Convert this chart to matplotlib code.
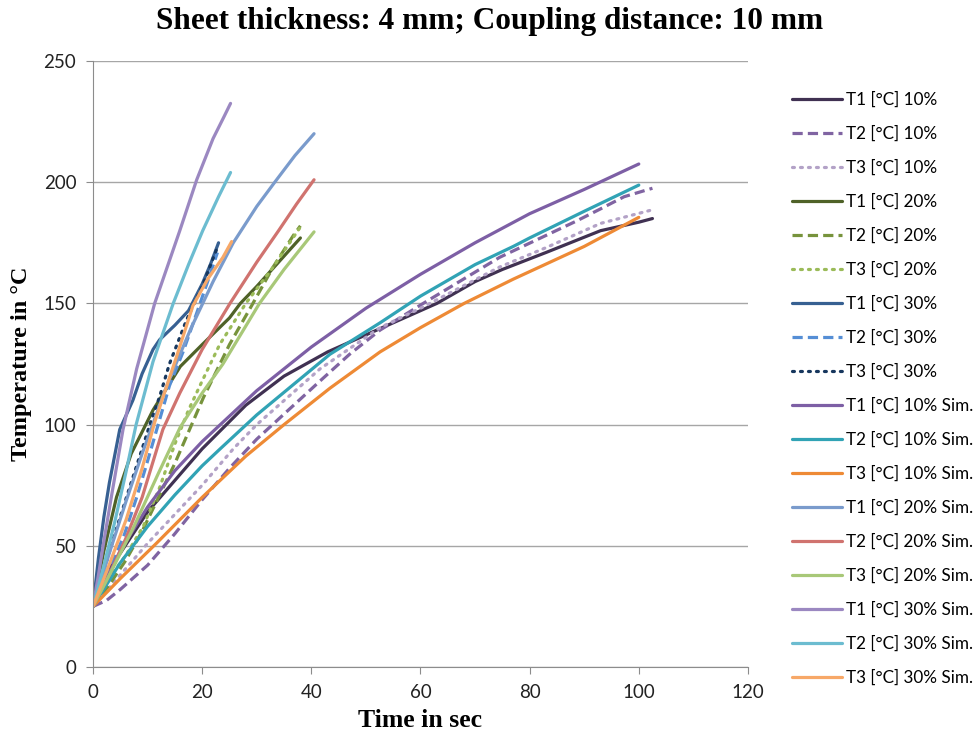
import matplotlib
matplotlib.use('Agg')
import matplotlib.pyplot as plt

# measured curves, 10 % power
t_t1_10 = [0, 2, 5, 10, 20, 28, 35, 43, 50, 55, 63, 70, 75, 83, 93, 100, 102.5]
y_t1_10 = [25, 38, 47, 64, 90, 108, 120, 130, 137, 142, 150, 159, 164, 171, 180, 183.5, 185]
t_t2_10 = [0, 2.5, 5, 10, 15, 20, 25, 30, 41.6, 47, 52.6, 60.5, 74.5, 88.6, 93, 97.3, 102.5]
y_t2_10 = [25, 27.5, 32, 42, 55, 69, 82, 94, 118, 129, 139, 150, 169, 184, 189, 194, 197.5]
t_t3_10 = [0, 5, 10, 15, 20, 25.7, 30, 41.6, 52.6, 60, 74.5, 83, 93, 102.3]
y_t3_10 = [25, 38, 51, 63, 75, 90, 100, 123, 140, 148, 165, 173, 183, 188.5]

# measured curves, 20 % power
t_t1_20 = [0, 2, 4.3, 7, 11, 16, 20, 25, 27, 30, 34, 38]
y_t1_20 = [25, 48, 70, 88, 106, 124, 133, 144, 150, 157, 167, 177]
t_t2_20 = [0, 3, 6, 9, 12, 15, 17.5, 20.2, 25, 29.3, 33, 36.7, 38]
y_t2_20 = [25, 34, 44, 56, 70, 84, 97, 111, 133, 150, 165, 178, 182]
t_t3_20 = [0, 3, 6, 9.2, 12.2, 15, 17.5, 20, 23.2, 28, 33, 38]
y_t3_20 = [25, 37, 46, 58, 74, 92, 106, 118, 133, 150, 165, 181.5]

# measured curves, 30 % power
t_t1_30 = [0, 1, 2, 3, 4.9, 7.3, 9, 11, 12.2, 15, 17.5, 20, 21.5, 23]
y_t1_30 = [25, 45, 62, 76, 98, 110, 121, 131, 135, 141, 147, 158, 166, 175]
t_t2_30 = [0, 3, 5.8, 8, 10, 12.2, 14, 16.5, 19, 21, 22.8]
y_t2_30 = [25, 40, 55, 70, 85, 102, 116, 130, 146, 159, 171]
t_t3_30 = [0, 2, 4, 6.7, 9, 10.7, 12.2, 14, 17.1, 20, 22.6]
y_t3_30 = [25, 40, 55, 74, 90, 102, 111.5, 125, 143, 157, 172]

# simulation, 10 % power
t_s1_10 = [0, 5, 10, 15, 20, 30, 40, 50, 60, 70, 80, 90, 100]
y_s1_10 = [25, 48, 66, 81, 93, 114, 132, 148, 162, 175, 187, 197, 207.5]
t_s2_10 = [0, 5, 10, 15, 20, 23.3, 30, 43.4, 52.6, 60, 70, 77, 80, 90, 100]
y_s2_10 = [25, 43, 58, 71, 83, 90, 104, 129, 142, 153, 166, 173.5, 177, 188, 198.8]
t_s3_10 = [0, 5, 11.6, 20, 28, 35, 43.4, 52.6, 60, 68, 77, 90, 100]
y_s3_10 = [25, 36.5, 51, 70, 87, 100, 115, 130, 140, 150, 160, 173.5, 185.5]

# simulation, 20 % power
t_s1_20 = [0, 3, 6, 9, 13.5, 18, 22, 25.7, 30, 33.3, 37, 40.5]
y_s1_20 = [25, 47, 68, 88, 116, 140, 159, 175, 190, 200, 211, 220]
t_s2_20 = [0, 3, 6, 9, 12.8, 15.9, 20, 25.1, 30, 34, 37.3, 40.5]
y_s2_20 = [25, 38, 53, 70, 98, 113, 131, 150, 167, 180, 191, 201]
t_s3_20 = [0, 3, 7.3, 12, 16, 20, 23.8, 30.5, 35, 40.5]
y_s3_20 = [25, 38, 57, 80, 99, 113, 125, 150, 164, 179.5]

# simulation, 30 % power
t_s1_30 = [0, 1, 2, 3.5, 5.5, 8, 11.3, 15.9, 19, 22, 24, 25.2]
y_s1_30 = [25, 38, 52, 72, 98, 123, 150, 180, 201, 218, 227, 232.5]
t_s2_30 = [0, 2, 4, 6, 7.9, 11, 14.7, 17.5, 20.1, 23, 25.2]
y_s2_30 = [25, 42, 60, 80, 100, 126, 150, 166, 180, 194, 204]
t_s3_30 = [0, 3.1, 6.1, 9, 11.3, 15.3, 18.3, 21, 23.8, 25.4]
y_s3_30 = [25, 43, 61, 82, 101, 128, 149, 160, 169, 175.5]

labels = [
    'T1 [°C] 10%', 'T2 [°C] 10%', 'T3 [°C] 10%',
    'T1 [°C] 20%', 'T2 [°C] 20%', 'T3 [°C] 20%',
    'T1 [°C] 30%', 'T2 [°C] 30%', 'T3 [°C] 30%',
    'T1 [°C] 10% Sim.', 'T2 [°C] 10% Sim.', 'T3 [°C] 10% Sim.',
    'T1 [°C] 20% Sim.', 'T2 [°C] 20% Sim.', 'T3 [°C] 20% Sim.',
    'T1 [°C] 30% Sim.', 'T2 [°C] 30% Sim.', 'T3 [°C] 30% Sim.',
]

series = [
    (t_t1_10, y_t1_10), (t_t2_10, y_t2_10), (t_t3_10, y_t3_10),
    (t_t1_20, y_t1_20), (t_t2_20, y_t2_20), (t_t3_20, y_t3_20),
    (t_t1_30, y_t1_30), (t_t2_30, y_t2_30), (t_t3_30, y_t3_30),
    (t_s1_10, y_s1_10), (t_s2_10, y_s2_10), (t_s3_10, y_s3_10),
    (t_s1_20, y_s1_20), (t_s2_20, y_s2_20), (t_s3_20, y_s3_20),
    (t_s1_30, y_s1_30), (t_s2_30, y_s2_30), (t_s3_30, y_s3_30),
]

colors = [
    '#403152', '#8064a2', '#b3a2c7',
    '#4f6228', '#77933c', '#9bbb59',
    '#376092', '#558ed5', '#17375e',
    '#7d5fa5', '#31a3b5', '#ee8a35',
    '#7a9bcc', '#d0736f', '#a8c878',
    '#9b88c1', '#6cbcd0', '#f7a868',
]

DASHED = (0, (3.2, 1.6))
DOTTED = (0, (0.6, 1.9))
styles = ['-', DASHED, DOTTED] * 3 + ['-'] * 9

fig = plt.figure(figsize=(9.79, 7.40), dpi=100)
ax = fig.add_axes([0.095, 0.0986, 0.669, 0.819])

handles = []
for (t, y), lab, col, ls in zip(series, labels, colors, styles):
    cap = 'round' if ls is DOTTED else 'butt'
    h, = ax.plot(t, y, color=col, linestyle=ls, linewidth=2.3, label=lab,
                 dash_capstyle=cap, solid_capstyle='round',
                 solid_joinstyle='round')
    handles.append(h)

ax.set_xlim(0, 120)
ax.set_ylim(0, 250)
ax.set_xticks(range(0, 121, 20))
ax.set_yticks(range(0, 251, 50))
ax.grid(axis='y', color='#a6a6a6', linewidth=1.0)
ax.set_axisbelow(True)
for side in ('top', 'right'):
    ax.spines[side].set_visible(False)
for side in ('left', 'bottom'):
    ax.spines[side].set_color('#8c8c8c')
ax.tick_params(axis='both', colors='#8c8c8c', length=5, labelcolor='#222222',
               labelsize=13.5, pad=7)
for lbl in ax.get_xticklabels() + ax.get_yticklabels():
    lbl.set_family('Lato')

ax.set_xlabel('Time in sec', family='Liberation Serif', fontweight='bold',
              fontsize=18.5, labelpad=6)
ax.set_ylabel('Temperature in °C', family='Liberation Serif', fontweight='bold',
              fontsize=17.5, labelpad=8)
fig.suptitle('Sheet thickness: 4 mm; Coupling distance: 10 mm',
             family='Liberation Serif', fontweight='bold', fontsize=22.5,
             x=0.5, y=0.99)

fig.legend(handles=handles, loc='upper left', bbox_to_anchor=(0.809, 0.876),
           frameon=False, prop={'family': 'Lato', 'size': 12.3},
           handlelength=2.95, handletextpad=0.23, labelspacing=1.04,
           borderpad=0, borderaxespad=0)

fig.savefig('out.png', dpi=100)
